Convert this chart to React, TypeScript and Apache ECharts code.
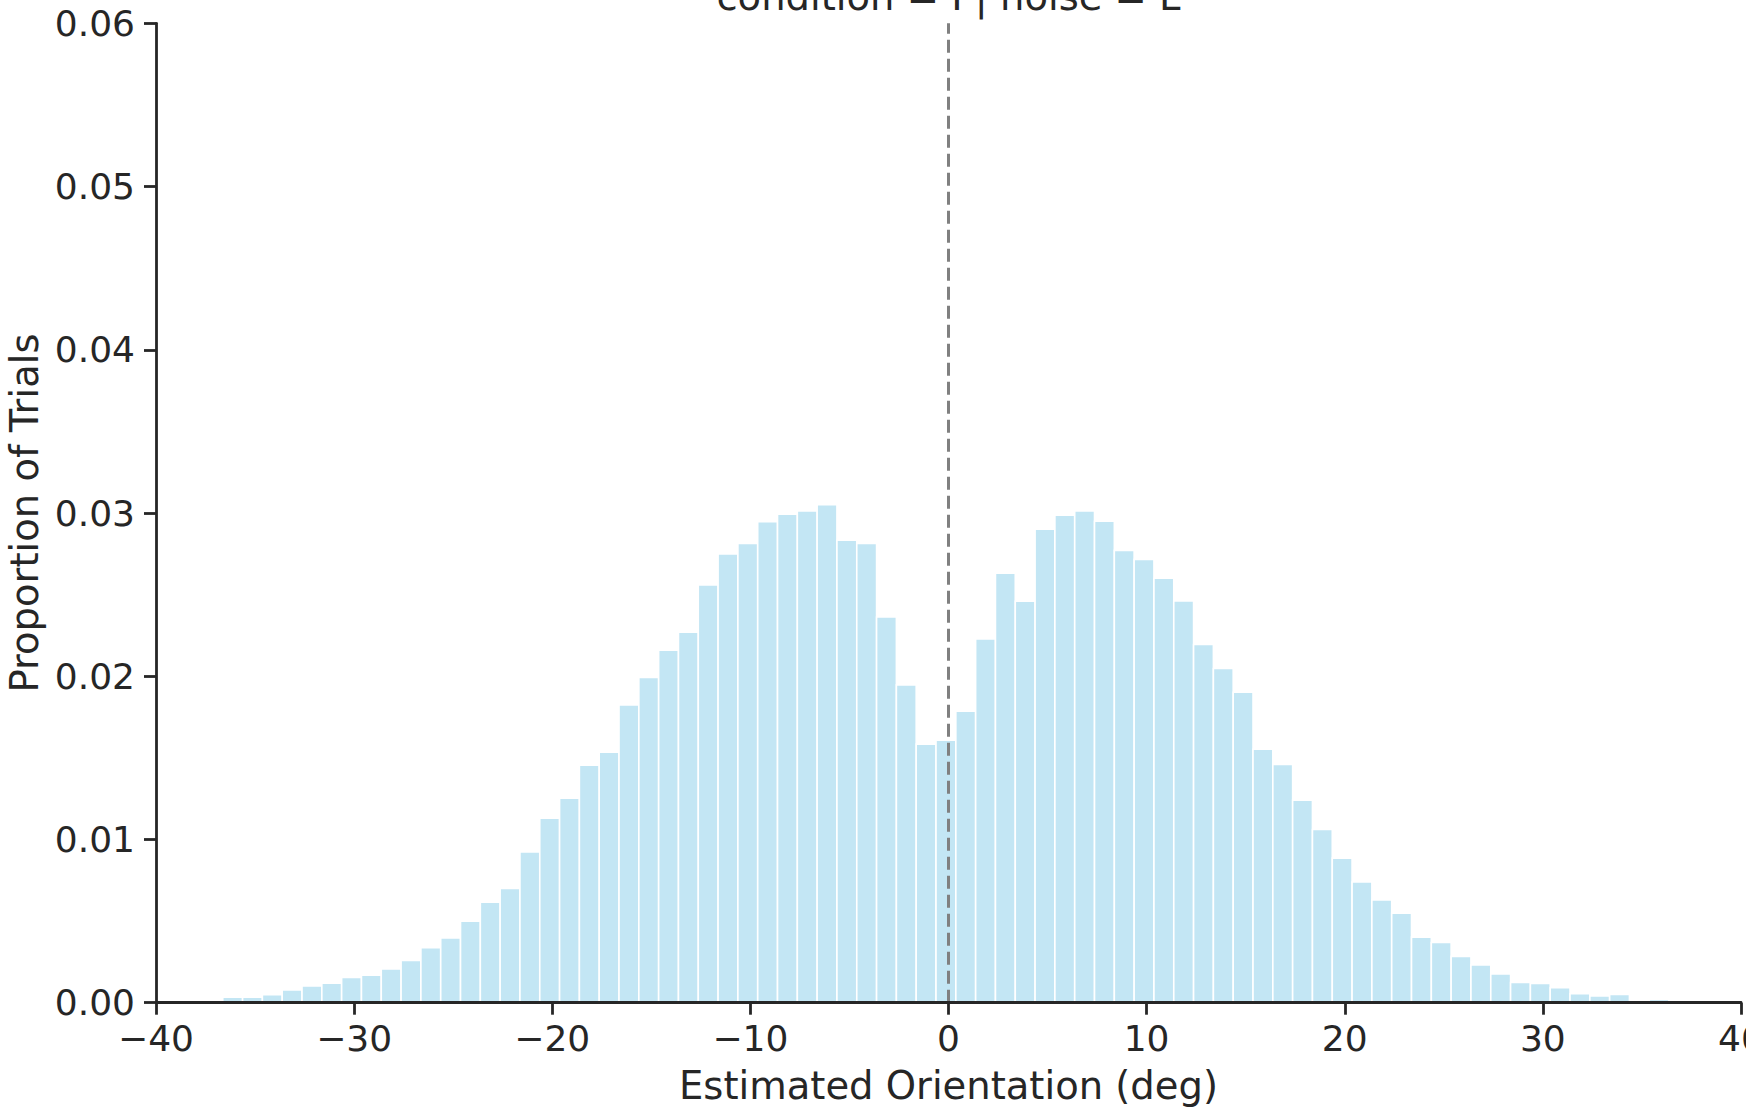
import React, { useEffect, useRef } from "react";
import * as echarts from "echarts";

// ---- data ----
const chartTitle = "condition = I | noise = L";
const xAxisLabel = "Estimated Orientation (deg)";
const yAxisLabel = "Proportion of Trials";
const binStart = -39.63;
const binWidth = 1;
const proportions = [
  0.0001, 0.0001, 0.00016, 0.00033, 0.00033, 0.00049, 0.00078, 0.00102, 0.0012, 0.00155,
  0.00169, 0.00206, 0.00259, 0.00337, 0.00396, 0.005, 0.00616, 0.007, 0.00924, 0.01131,
  0.01253, 0.01455, 0.01535, 0.01824, 0.01992, 0.02159, 0.02269, 0.02559, 0.02749, 0.02814,
  0.02947, 0.02992, 0.03012, 0.03051, 0.02833, 0.02814, 0.02363, 0.01947, 0.01584, 0.01608,
  0.01786, 0.02229, 0.02631, 0.02459, 0.029, 0.02986, 0.03012, 0.02949, 0.02771, 0.02716,
  0.026, 0.02461, 0.02194, 0.02047, 0.01902, 0.01553, 0.01459, 0.01241, 0.01061, 0.00886,
  0.00739, 0.00629, 0.00549, 0.00402, 0.00369, 0.00284, 0.00231, 0.00176, 0.00124, 0.00118,
  0.00092, 0.00055, 0.00041, 0.00051, 0.00003, 0.0002, 0.00014, 0, 0.00008,
];
const referenceX = 0;
const xMin = -40;
const xMax = 40;
const xStep = 10;
const yMin = 0;
const yMax = 0.06;
const yStep = 0.01;

const FONT = "'DejaVu Sans', 'Liberation Sans', sans-serif";
const INK = "#262626";

export default function App() {
  const ref = useRef<HTMLDivElement>(null);

  useEffect(() => {
    document.body.style.margin = "0";
    if (!ref.current) return;
    const chart = echarts.init(ref.current, null, { renderer: "svg" });

    const binData = proportions.map((p, i) => [
      binStart + i * binWidth,
      binStart + (i + 1) * binWidth,
      p,
    ]);

    const gridLeft = 156;
    const gridRight = 5;
    const gridTop = 23.3;
    const gridBottom = 115.3;

    const option: any = {
      animation: false,
      backgroundColor: "#ffffff",
      grid: {
        left: gridLeft,
        right: gridRight,
        top: gridTop,
        bottom: gridBottom,
        containLabel: false,
        outerBoundsMode: "none",
      },
      graphic: [
        {
          type: "text",
          x: 948.5,
          y: -4,
          z: 20,
          style: {
            text: chartTitle,
            fontSize: 38.5,
            fontFamily: FONT,
            fill: INK,
            textAlign: "center",
            textVerticalAlign: "middle",
          },
        },
      ],
      xAxis: {
        type: "value",
        min: xMin,
        max: xMax,
        interval: xStep,
        z: 10,
        name: xAxisLabel,
        nameLocation: "middle",
        nameGap: 63,
        nameTextStyle: { fontSize: 38.5, fontFamily: FONT, color: INK },
        axisLine: { show: true, onZero: false, lineStyle: { color: INK, width: 2.8 } },
        axisTick: { show: true, inside: false, length: 12, lineStyle: { color: INK, width: 2.8 } },
        axisLabel: {
          fontSize: 36,
          fontFamily: FONT,
          color: INK,
          margin: 18,
          showMinLabel: true,
          showMaxLabel: true,
          hideOverlap: false,
          formatter: (v: number) => (v < 0 ? "\u2212" + Math.abs(v) : String(v)),
        },
        splitLine: { show: false },
      },
      yAxis: {
        type: "value",
        min: yMin,
        max: yMax,
        interval: yStep,
        z: 10,
        name: yAxisLabel,
        nameLocation: "middle",
        nameGap: 111,
        nameTextStyle: { fontSize: 38.5, fontFamily: FONT, color: INK },
        axisLine: { show: true, onZero: false, lineStyle: { color: INK, width: 2.8 } },
        axisTick: { show: true, inside: false, length: 12, lineStyle: { color: INK, width: 2.8 } },
        axisLabel: {
          fontSize: 36,
          fontFamily: FONT,
          color: INK,
          margin: 21,
          formatter: (v: number) => v.toFixed(2),
        },
        splitLine: { show: false },
      },
      series: [
        {
          type: "custom",
          z: 2,
          data: binData,
          encode: { x: [0, 1], y: 2 },
          renderItem: (params: any, api: any) => {
            const x0 = api.value(0);
            const x1 = api.value(1);
            const h = api.value(2);
            const tl = api.coord([x0, h]);
            const br = api.coord([x1, 0]);
            return {
              type: "rect",
              shape: { x: tl[0], y: tl[1], width: br[0] - tl[0], height: br[1] - tl[1] },
              style: { fill: "#C3E6F4", stroke: "#ffffff", lineWidth: 1.6 },
            };
          },
        },
        {
          type: "line",
          z: 5,
          symbol: "none",
          silent: true,
          data: [
            [referenceX, yMin],
            [referenceX, yMax],
          ],
          lineStyle: { color: "#808080", width: 3, type: [13, 6] },
        },
      ],
    };

    chart.setOption(option);
    return () => chart.dispose();
  }, []);

  return (
    <div
      ref={ref}
      style={{ position: "absolute", left: 0, top: 0, width: 1746, height: 1118, background: "#fff" }}
    />
  );
}
